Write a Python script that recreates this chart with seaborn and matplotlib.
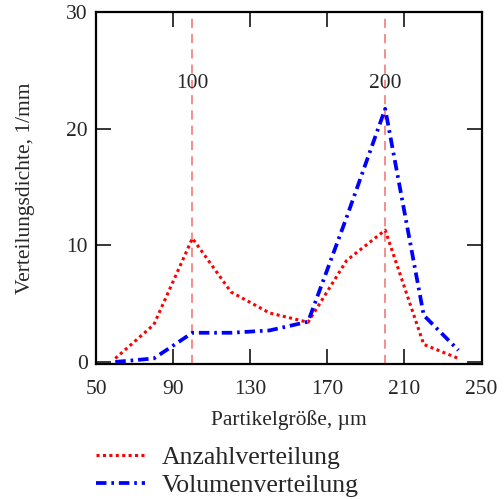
import pandas as pd
import matplotlib.pyplot as plt
import seaborn as sns

# data
groesse = [60, 80, 100, 120, 140, 160, 180, 200, 220, 238]
anzahl = [0.3, 3.2, 10.6, 6.0, 4.2, 3.4, 8.7, 11.3, 1.5, 0.3]
volumen = [0.0, 0.3, 2.5, 2.5, 2.7, 3.45, 12.4, 21.7, 4.0, 1.0]
marken = [100, 200]
x_ticks = [50, 90, 130, 170, 210, 250]
y_ticks = [0, 10, 20, 30]

df = pd.DataFrame({'groesse': groesse, 'anzahl': anzahl, 'volumen': volumen})

sns.set_theme(style="ticks")
plt.rcParams['font.family'] = ['Liberation Serif', 'DejaVu Serif']

fig = plt.figure(figsize=(5.04, 4.99), dpi=100)
ax = fig.add_axes([0.1905, 0.270, 0.765, 0.706])

sns.lineplot(x='groesse', y='anzahl', data=df, ax=ax, color='#ff0000',
             linestyle=(0, (1, 1.1)), linewidth=2.2, label='Anzahlverteilung')
sns.lineplot(x='groesse', y='volumen', data=df, ax=ax, color='#0000ff',
             linestyle=(0, (2.8, 1.3, 0.7, 1.3)), linewidth=2.7, label='Volumenverteilung')

for m in marken:
    ax.axvline(m, color='#f07070', linestyle=(0, (6, 4)), linewidth=1.1, zorder=1)
    ax.text(m, 23.9, str(m), ha='center', va='center', fontsize=15.5)

ax.set_xlim(50, 250)
ax.set_ylim(-0.2, 30)
ax.set_xticks(x_ticks)
ax.set_yticks(y_ticks)
ax.tick_params(direction='in', length=11, width=1.3, labelsize=15.5,
               top=True, right=True)
ax.tick_params(axis='x', pad=11)
ax.tick_params(axis='y', pad=6)
for sp in ax.spines.values():
    sp.set_linewidth(1.6)
    sp.set_color('black')

ax.set_xlabel('Partikelgröße, µm', fontsize=15.5, labelpad=8)
ax.set_ylabel('Verteilungsdichte, 1/mm', fontsize=15.5, labelpad=22)

handles, labels = ax.get_legend_handles_labels()
ax.get_legend().remove()
fig.legend(handles, labels, loc='upper left', bbox_to_anchor=(0.17, 0.127),
           frameon=False, fontsize=18.5, handlelength=1.9, handletextpad=0.65,
           labelspacing=0.2, borderaxespad=0)

plt.savefig('out.png', dpi=100)
plt.close()
